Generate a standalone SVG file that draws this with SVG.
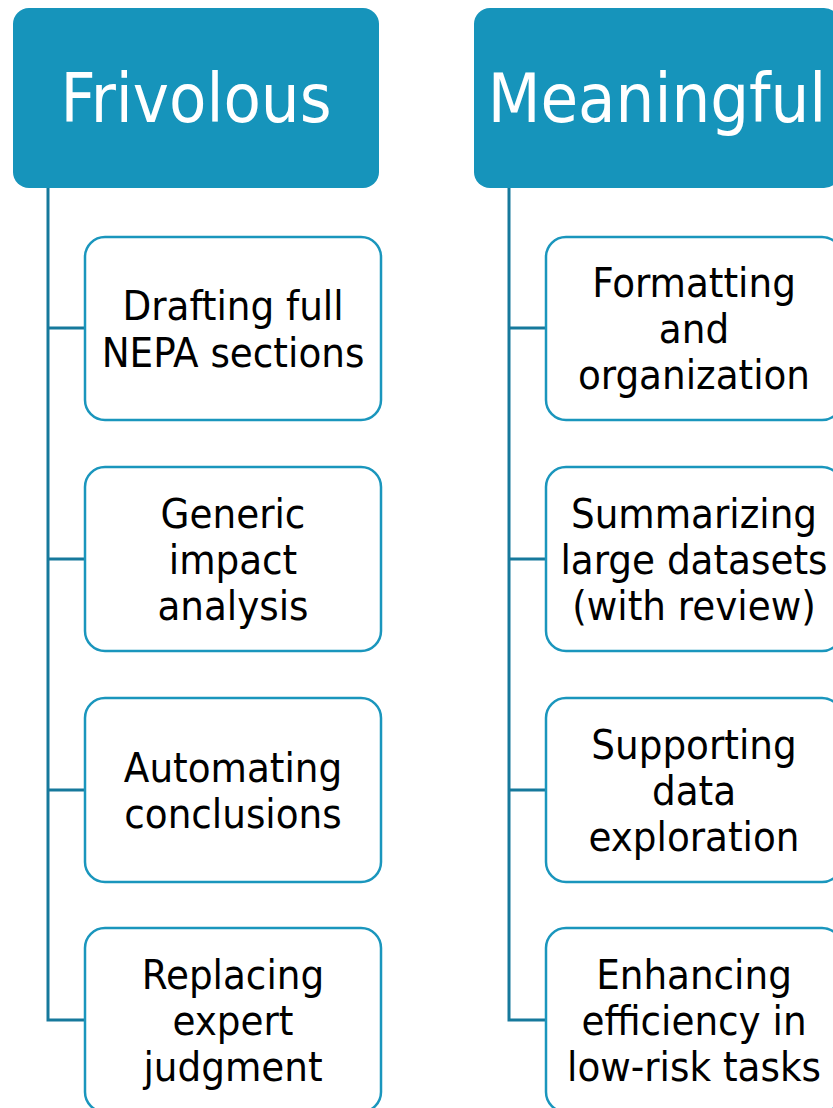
<svg xmlns="http://www.w3.org/2000/svg" width="833" height="1108" viewBox="0 0 833 1108">
<style>
.hdr{fill:#1694BB;}
.box{fill:#FFFFFF;stroke:#1A96BD;stroke-width:2.5;}
.conn{fill:none;stroke:#16799C;stroke-width:3;}
.ht{font-family:"DejaVu Sans Condensed","DejaVu Sans",sans-serif;font-stretch:condensed;font-size:68px;fill:#FFFFFF;text-anchor:middle;}
.bt{font-family:"DejaVu Sans Condensed","DejaVu Sans",sans-serif;font-stretch:condensed;font-size:41.5px;fill:#000000;text-anchor:middle;}
</style>
<rect width="833" height="1108" fill="#FFFFFF"/>
<g id="connectors">
<path class="conn" d="M48,188 V1020 H86 M48,328 H86 M48,559 H86 M48,790 H86"/>
<path class="conn" d="M509,188 V1020 H546 M509,328 H546 M509,559 H546 M509,790 H546"/>
</g>
<g id="frivolous">
<rect class="hdr" x="13" y="8" width="366" height="180" rx="16"/>
<text class="ht" x="196" y="122">Frivolous</text>
</g>
<g id="meaningful">
<rect class="hdr" x="474" y="8" width="366" height="180" rx="16"/>
<text class="ht" x="657" y="122">Meaningful</text>
</g>
<g id="f1">
<rect class="box" x="85" y="237" width="296" height="183" rx="20"/>
<text class="bt" x="233" y="320">Drafting full</text>
<text class="bt" x="233" y="367">NEPA sections</text>
</g>
<g id="f2">
<rect class="box" x="85" y="467" width="296" height="184" rx="20"/>
<text class="bt" x="233" y="528">Generic</text>
<text class="bt" x="233" y="574">impact</text>
<text class="bt" x="233" y="620">analysis</text>
</g>
<g id="f3">
<rect class="box" x="85" y="698" width="296" height="184" rx="20"/>
<text class="bt" x="233" y="782">Automating</text>
<text class="bt" x="233" y="828">conclusions</text>
</g>
<g id="f4">
<rect class="box" x="85" y="928" width="296" height="184" rx="20"/>
<text class="bt" x="233" y="989">Replacing</text>
<text class="bt" x="233" y="1035">expert</text>
<text class="bt" x="233" y="1081">judgment</text>
</g>
<g id="m1">
<rect class="box" x="546" y="237" width="296" height="183" rx="20"/>
<text class="bt" x="694" y="297">Formatting</text>
<text class="bt" x="694" y="343">and</text>
<text class="bt" x="694" y="389">organization</text>
</g>
<g id="m2">
<rect class="box" x="546" y="467" width="296" height="184" rx="20"/>
<text class="bt" x="694" y="528">Summarizing</text>
<text class="bt" x="694" y="574">large datasets</text>
<text class="bt" x="694" y="620">(with review)</text>
</g>
<g id="m3">
<rect class="box" x="546" y="698" width="296" height="184" rx="20"/>
<text class="bt" x="694" y="759">Supporting</text>
<text class="bt" x="694" y="805">data</text>
<text class="bt" x="694" y="851">exploration</text>
</g>
<g id="m4">
<rect class="box" x="546" y="928" width="296" height="184" rx="20"/>
<text class="bt" x="694" y="989">Enhancing</text>
<text class="bt" x="694" y="1035">efficiency in</text>
<text class="bt" x="694" y="1081">low-risk tasks</text>
</g>
</svg>
